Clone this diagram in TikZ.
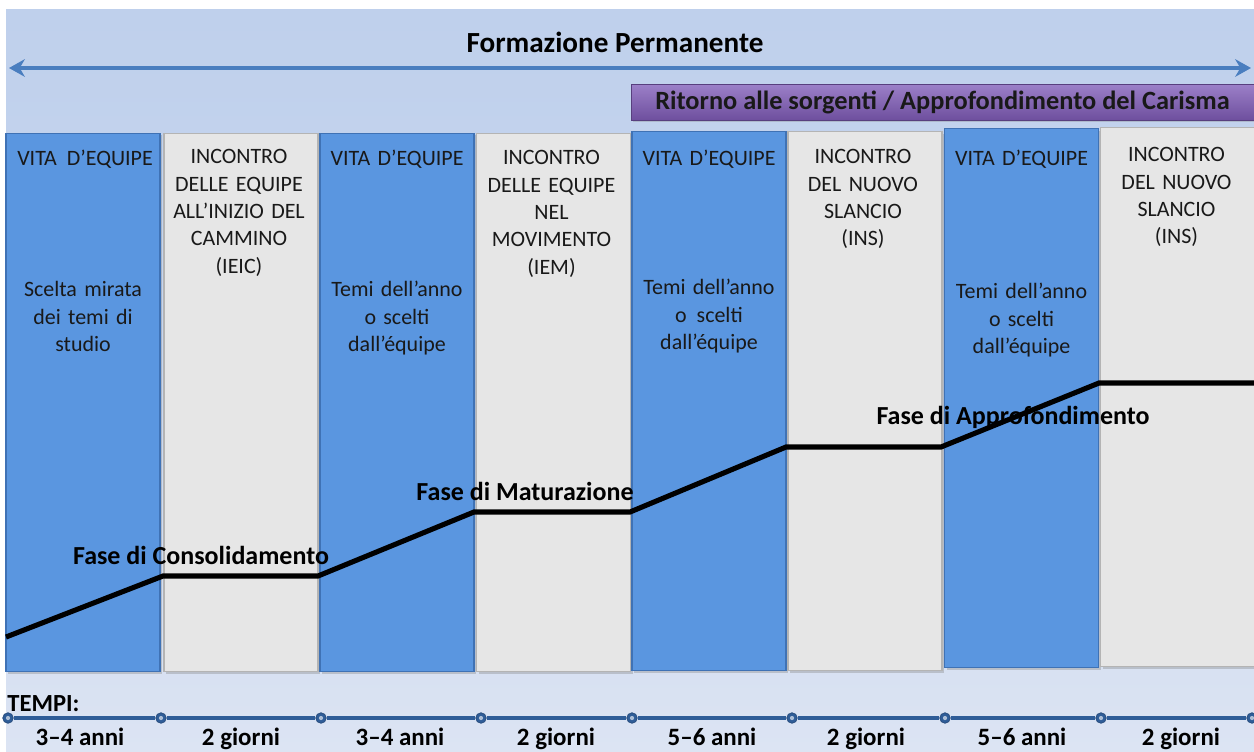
\documentclass[tikz,border=0pt]{standalone}
\usepackage{fontspec}
\setmainfont{Carlito}
\usetikzlibrary{arrows.meta,shadows}
\definecolor{bgtop}{HTML}{BFD0EC}
\definecolor{bgbot}{HTML}{DCE4F3}
\definecolor{arrowblue}{HTML}{4A7EBF}
\definecolor{colblue}{HTML}{5A96E0}
\definecolor{colblueedge}{HTML}{3F72B5}
\definecolor{colgray}{HTML}{E6E6E6}
\definecolor{colgrayedge}{HTML}{B4B4B4}
\definecolor{purptop}{HTML}{9C80C8}
\definecolor{purpbot}{HTML}{6E4F9E}
\definecolor{tline}{HTML}{2F5D98}
\tikzset{
  colbox/.style={rectangle, minimum width=3.08cm, minimum height=10.78cm, inner sep=0pt,
    drop shadow={opacity=0.35, shadow xshift=1.2pt, shadow yshift=-1.2pt}},
  bluecol/.style={colbox, fill=colblue, draw=colblueedge, line width=0.6pt},
  graycol/.style={colbox, fill=colgray, draw=colgrayedge, line width=0.6pt},
  coltext/.style={anchor=north, inner sep=0pt, align=center, text width=2.95cm,
    font=\fontsize{12.5}{15.6}\selectfont, text=black!90},
  phase/.style={inner sep=0pt, font=\bfseries\fontsize{14.8}{17}\selectfont},
  tdot/.style={circle, fill=tline, draw=tline!80!black, inner sep=0pt, minimum size=6pt},
  tlabel/.style={inner sep=0pt, anchor=base, font=\bfseries\fontsize{14.2}{17}\selectfont},
  phaseline/.style={line width=2.9pt, black},
}
\begin{document}
\begin{tikzpicture}[x=0.02cm,y=-0.02cm]
\useasboundingbox (0,0) rectangle (1254,751);
\fill[white] (0,0) rectangle (1254,751);
\shade[top color=bgtop, bottom color=bgbot, middle color=bgtop!70!bgbot] (6,9) rectangle (1254,751);

% title and arrow
\node[inner sep=0pt, font=\bfseries\fontsize{16.6}{19}\selectfont] (title) at (615,42) {Formazione Permanente};
\coordinate (al) at (9,68);
\coordinate (ar) at (1251,68);
\draw[arrowblue, line width=2.4pt, {Stealth[length=9pt,width=10pt]}-{Stealth[length=9pt,width=10pt]}] (al) -- (ar);

% purple bar
\node[rectangle, minimum width=12.46cm, minimum height=0.72cm, inner sep=0pt,
  top color=purptop, bottom color=purpbot, draw=purpbot!80!black, line width=0.4pt,
  drop shadow={opacity=0.3, shadow xshift=1pt, shadow yshift=-1pt},
  font=\bfseries\fontsize{15}{17}\selectfont, text=black!90] (carisma) at (942.5,102)
  {Ritorno alle sorgenti / Approfondimento del Carisma};

% columns
\node[bluecol] (c1) at (83,402.5) {};
\node[graycol] (c2) at (241,402.5) {};
\node[bluecol] (c3) at (397,402.5) {};
\node[graycol] (c4) at (553.5,402.5) {};
\node[bluecol] (c5) at (709,401) {};
\node[graycol] (c6) at (865,401) {};
\node[bluecol] (c7) at (1021.5,398) {};
\node[graycol] (c8) at (1177.5,397) {};

% column texts
\node[coltext] (t1a) at (85,150) {VITA\hspace{0.45em}D’EQUIPE};
\node[coltext] (t1b) at (83,281) {Scelta mirata\\dei temi di\\studio};
\node[coltext] (t2a) at (239,149) {INCONTRO\\DELLE EQUIPE\\ALL’INIZIO DEL\\CAMMINO\\(IEIC)};
\node[coltext] (t3a) at (397,150) {VITA D’EQUIPE};
\node[coltext] (t3b) at (397,281) {Temi dell’anno\\o scelti\\dall’équipe};
\node[coltext] (t4a) at (551.5,150) {INCONTRO\\DELLE EQUIPE\\NEL\\MOVIMENTO\\(IEM)};
\node[coltext] (t5a) at (709,150) {VITA D’EQUIPE};
\node[coltext] (t5b) at (709,279) {Temi dell’anno\\o\hspace{0.45em}scelti\\dall’équipe};
\node[coltext] (t6a) at (863,149) {INCONTRO\\DEL NUOVO\\SLANCIO\\(INS)};
\node[coltext] (t7a) at (1021.5,150) {VITA D’EQUIPE};
\node[coltext] (t7b) at (1021.5,283) {Temi dell’anno\\o scelti\\dall’équipe};
\node[coltext] (t8a) at (1176.5,147) {INCONTRO\\DEL NUOVO\\SLANCIO\\(INS)};

% phase line
\coordinate (p0) at (6,637);
\coordinate (p1) at (163,576);
\coordinate (p2) at (318,576);
\coordinate (p3) at (474,512);
\coordinate (p4) at (630,512);
\coordinate (p5) at (786,447);
\coordinate (p6) at (941,447);
\coordinate (p7) at (1099,383);
\coordinate (p8) at (1254,383);
\draw[phaseline] (p0) -- (p1) -- (p2) -- (p3) -- (p4) -- (p5) -- (p6) -- (p7) -- (p8);

\node[phase] (f1) at (201,555) {Fase di Consolidamento};
\node[phase] (f2) at (525,491) {Fase di Maturazione};
\node[phase] (f3) at (1013,417) {Fase di Approfondimento};

% timeline
\node[inner sep=0pt, anchor=base west, font=\bfseries\fontsize{14}{16}\selectfont] (tempi) at (7,711) {TEMPI:};
\node[tdot] (d0) at (8,718) {};
\node[tdot] (d1) at (161,718) {};
\node[tdot] (d2) at (321,718) {};
\node[tdot] (d3) at (481,718) {};
\node[tdot] (d4) at (632,718) {};
\node[tdot] (d5) at (792,718) {};
\node[tdot] (d6) at (945,718) {};
\node[tdot] (d7) at (1101,718) {};
\node[tdot] (d8) at (1252,718) {};
\draw[tline, line width=1.8pt] (d0) -- (d1) -- (d2) -- (d3) -- (d4) -- (d5) -- (d6) -- (d7) -- (d8);
\foreach \d in {d0,d1,d2,d3,d4,d5,d6,d7,d8} \fill[white!60!tline] (\d) circle (1.2pt);

\node[tlabel] (l1) at (80,745) {3–4 anni};
\node[tlabel] (l2) at (241,745) {2 giorni};
\node[tlabel] (l3) at (400,745) {3–4 anni};
\node[tlabel] (l4) at (556,745) {2 giorni};
\node[tlabel] (l5) at (712,745) {5–6 anni};
\node[tlabel] (l6) at (866,745) {2 giorni};
\node[tlabel] (l7) at (1022,745) {5–6 anni};
\node[tlabel] (l8) at (1181,745) {2 giorni};
\end{tikzpicture}
\end{document}
